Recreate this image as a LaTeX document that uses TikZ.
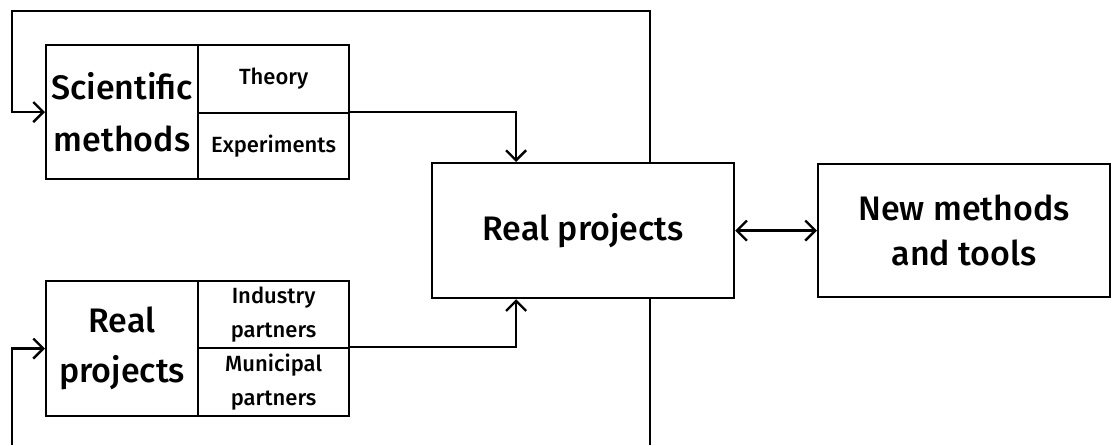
\documentclass[tikz,border=0pt]{standalone}
\usepackage{fontspec}
\setmainfont{Fira Sans Medium}
\usetikzlibrary{arrows.meta}
\tikzstyle{every node} = [font=\fontsize{22}{34}\selectfont, inner sep=0pt, align=center]
\tikzstyle{cell} = [draw, line width=2.2pt, anchor=north west]
\tikzstyle{bigtext} = [font=\fontsize{34}{52}\selectfont]
\tikzstyle{link} = [line width=2.4pt, -{Straight Barb[length=10pt,width=20pt]}]

\begin{document}
\begin{tikzpicture}[x=1pt, y=-1pt]
        \useasboundingbox (0,0) rectangle (1112,445);
        % upper input block
        \node[cell, bigtext, minimum width=152pt, minimum height=134pt] (sci) at (45,44) {Scientific\\methods};
        \node[cell, minimum width=151pt, minimum height=68pt] (theory) at (197,44) {Theory};
        \node[cell, minimum width=151pt, minimum height=66pt] (exper) at (197,112) {Experiments};
        % lower input block
        \node[cell, bigtext, minimum width=152pt, minimum height=135pt, font=\fontsize{34}{50}\selectfont] (proj) at (45,280) {Real\\projects};
        \node[cell, minimum width=151pt, minimum height=67pt] (industry) at (197,280) {Industry\\partners};
        \node[cell, minimum width=151pt, minimum height=68pt] (municipal) at (197,347) {Municipal\\partners};
        % centre and output
        \node[cell, bigtext, minimum width=302pt, minimum height=135pt] (real) at (431,162) {Real projects};
        \node[cell, bigtext, minimum width=292pt, minimum height=133pt, font=\fontsize{34}{45}\selectfont] (tools) at (817,163) {New methods\\and tools};
        \coordinate (feed) at (650,445);
        \coordinate (back) at (12,445);

        \draw[link] (exper.north east) -| ([xshift=-67pt]real.north);
        \draw[link] (municipal.north east) -| ([xshift=-67pt]real.south);
        \draw[link, {Straight Barb[length=10pt,width=20pt]}-{Straight Barb[length=10pt,width=20pt]}] (real) -- (tools);
        % feedback loop
        \draw[link] (real.north -| feed) |- (12,11) |- (sci.west);
        \draw[line width=2.4pt] (real.south -| feed) -- (feed);
        \draw[link] (back) |- (proj.west);
\end{tikzpicture}
\end{document}
